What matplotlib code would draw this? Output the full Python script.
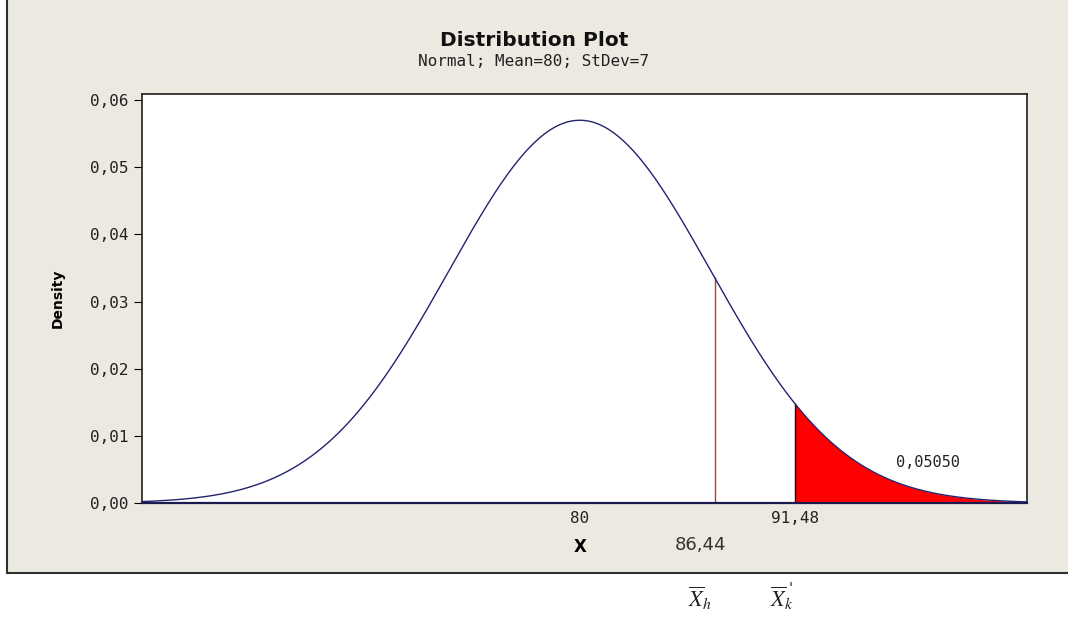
import numpy as np
import matplotlib.pyplot as plt
from matplotlib.patches import Rectangle

# distribution parameters shown in the subtitle
MEAN = 80
STDEV = 7
X_MIN, X_MAX = 56.6, 103.9
CUTOFF = 91.48          # start of shaded upper tail
TAIL_AREA = '0,05050'
HAND_LINE_X = 87.2      # red annotation line (drawn by hand in the original)
HAND_LABEL_X = 86.44
XK_LABEL_X = 90.8
Y_TICKS = [0.00, 0.01, 0.02, 0.03, 0.04, 0.05, 0.06]
X_TICKS = [80, 91.48]
X_TICK_LABELS = ['80', '91,48']

PANEL = '#ECE9E0'
CURVE = '#23236E'

plt.rcParams['mathtext.fontset'] = 'stix'


def pdf(x):
    return np.exp(-0.5 * ((x - MEAN) / STDEV) ** 2) / (STDEV * np.sqrt(2 * np.pi))


def main():
    fig = plt.figure(figsize=(10.68, 6.23), dpi=100)
    fig.patch.set_facecolor('white')
    fig.patches.append(Rectangle((7 / 1068, 1 - 573 / 623), 1.0, 1.0, transform=fig.transFigure,
                                 facecolor=PANEL, edgecolor='#303030', linewidth=1.5, zorder=-10))

    ax = fig.add_axes([142 / 1068, 1 - 503 / 623, (1027 - 142) / 1068, (503 - 94) / 623])
    ax.set_facecolor('white')

    x = np.linspace(X_MIN, X_MAX, 600)
    ax.plot(x, pdf(x), color=CURVE, lw=1.0, zorder=3)

    xt = np.linspace(CUTOFF, X_MAX, 200)
    ax.fill_between(xt, 0, pdf(xt), color='#FF0000', lw=0, zorder=2)
    ax.vlines(CUTOFF, 0, pdf(CUTOFF), color='#400000', lw=1.0, zorder=2)
    ax.vlines(HAND_LINE_X, 0, pdf(HAND_LINE_X), color='#D83020', lw=1.0, zorder=2)

    ax.text(96.9, 0.0054, TAIL_AREA, fontsize=11, family='DejaVu Sans Mono', color='#222222')

    ax.set_xlim(X_MIN, X_MAX)
    ax.set_ylim(0, 0.0609)
    ax.set_yticks(Y_TICKS)
    ax.set_yticklabels([('%.2f' % v).replace('.', ',') for v in Y_TICKS],
                       family='DejaVu Sans Mono', fontsize=11.5, color='#222222')
    ax.set_xticks(X_TICKS)
    ax.set_xticklabels(X_TICK_LABELS, family='DejaVu Sans Mono', fontsize=11.5, color='#222222')
    ax.tick_params(axis='x', length=0, pad=6)
    ax.tick_params(axis='y', length=6, width=0.8, pad=4)
    for s in ax.spines.values():
        s.set_color('#202020')
        s.set_linewidth(1.2)
    ax.spines['bottom'].set_color('#1A1A50')
    ax.spines['bottom'].set_linewidth(1.6)

    ax.set_ylabel('Density', fontsize=10, fontweight='bold', labelpad=18)
    ax.set_xlabel('X', fontsize=12, fontweight='bold')
    ax.xaxis.set_label_coords((MEAN - X_MIN) / (X_MAX - X_MIN), -0.085)

    fig.text(0.5, 1 - 40 / 623, 'Distribution Plot', ha='center', va='center',
             fontsize=14.5, fontweight='bold', color='#111111')
    fig.text(0.5, 1 - 62 / 623, 'Normal; Mean=80; StDev=7', ha='center', va='center',
             fontsize=11.5, family='DejaVu Sans Mono', color='#222222')

    ax.text(HAND_LABEL_X, -0.0063, '86,44', ha='center', va='center', fontsize=13, color='#333333')
    ax.text(HAND_LABEL_X, -0.0142, r'$\overline{X}_h$', ha='center', va='center', fontsize=16, color='#222222')
    ax.text(XK_LABEL_X, -0.0142, r'$\overline{X}_k$', ha='center', va='center', fontsize=16, color='#222222')
    ax.annotate("'", xy=(XK_LABEL_X, -0.0142), xytext=(6, 2), textcoords='offset points',
                ha='center', va='bottom', fontsize=11, family='DejaVu Serif', color='#222222',
                annotation_clip=False)

    plt.savefig('out.png', dpi=100)


if __name__ == '__main__':
    main()
